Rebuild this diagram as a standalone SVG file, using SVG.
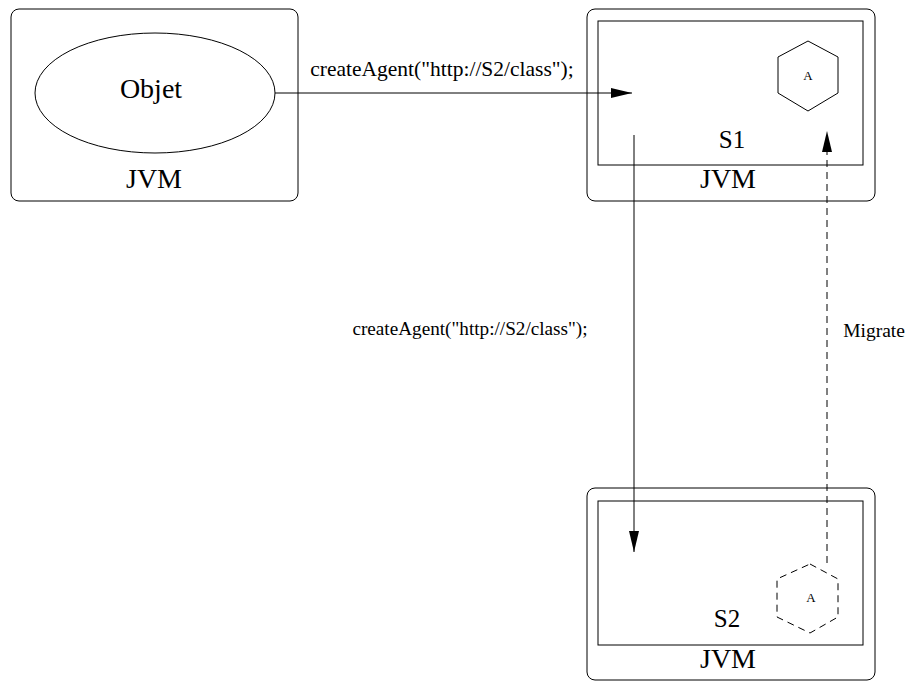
<svg xmlns="http://www.w3.org/2000/svg" width="910" height="682" viewBox="0 0 910 682">
<defs>
<style>
.box{fill:none;stroke:#000;stroke-width:1}
.t{fill:#000;text-anchor:middle}
.ln{fill:none;stroke:#000;stroke-width:1}
.dash{stroke-dasharray:7,5}
</style>
<marker id="ah" viewBox="0 0 21 10" refX="21" refY="5" markerWidth="21" markerHeight="10" markerUnits="userSpaceOnUse" orient="auto">
<path d="M0,0 L21,5 L0,10 Z" fill="#000"/>
</marker>
</defs>
<rect width="910" height="682" fill="#fff"/>
<g font-family="Liberation Serif, Times New Roman, serif">
<g id="jvm1">
<rect class="box" x="11" y="9" width="287" height="192" rx="8"/>
<text class="t" font-size="28" x="154" y="188">JVM</text>
</g>
<g id="objet">
<ellipse class="box" cx="155" cy="93" rx="120" ry="60"/>
<text class="t" font-size="28" x="151" y="98">Objet</text>
</g>
<g id="jvm-s1">
<rect class="box" x="587" y="9" width="288" height="192" rx="8"/>
<text class="t" font-size="28" x="728" y="188">JVM</text>
</g>
<g id="s1">
<rect class="box" x="598" y="21" width="265" height="144"/>
<text class="t" font-size="25" x="732" y="148">S1</text>
</g>
<g id="agent-s1">
<polygon class="box" points="808,41 838,57 838,93 808,111 778,93 778,57"/>
<text class="t" font-size="13" x="808" y="80">A</text>
</g>
<g id="jvm-s2">
<rect class="box" x="587" y="488" width="288" height="192" rx="8"/>
<text class="t" font-size="28" x="728" y="668">JVM</text>
</g>
<g id="s2">
<rect class="box" x="598" y="501" width="265" height="144"/>
<text class="t" font-size="25" x="727" y="627">S2</text>
</g>
<g id="agent-s2">
<polygon class="box dash" points="810,564 838,579 838,617 810,633 777,617 777,579"/>
<text class="t" font-size="13" x="811" y="602">A</text>
</g>
<g id="connectors">
<line class="ln" x1="275" y1="93" x2="632" y2="93" marker-end="url(#ah)"/>
<text class="t" font-size="21.5" x="442" y="76">createAgent("http://S2/class");</text>
<line class="ln" x1="634" y1="135" x2="634" y2="552" marker-end="url(#ah)"/>
<text class="t" font-size="19.2" x="470" y="335">createAgent("http://S2/class");</text>
<line class="ln dash" x1="827" y1="563" x2="827" y2="131" marker-end="url(#ah)"/>
<text class="t" font-size="19.5" x="874" y="337">Migrate</text>
</g>
</g>
</svg>
